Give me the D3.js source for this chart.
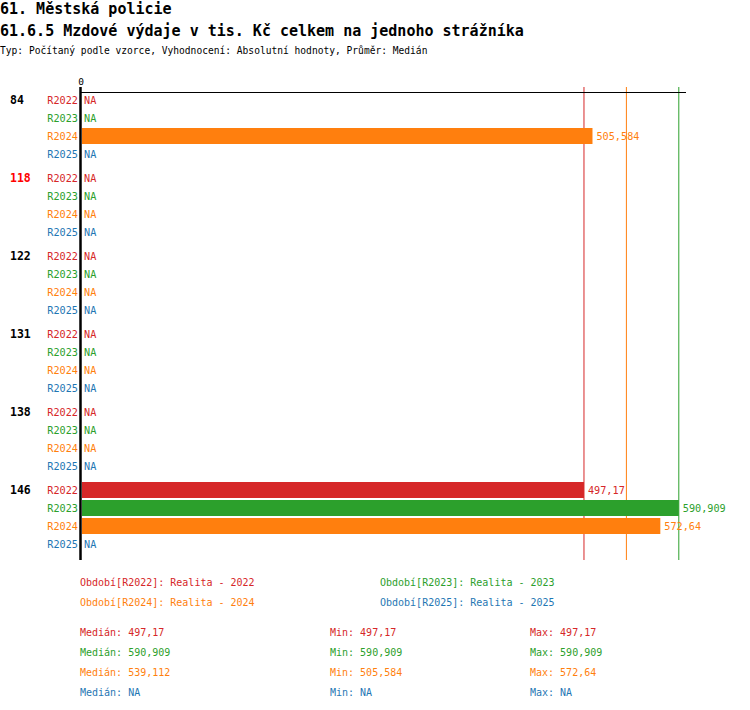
<!DOCTYPE html>
<html>
<head>
<meta charset="utf-8">
<script src="https://cdn.jsdelivr.net/npm/d3@7"></script>
<style>
  body { margin: 0; background: #fff; }
  text { font-family: "DejaVu Sans Mono", monospace; }
</style>
</head>
<body>
<div class="chart"></div>
<script>
// data (null = NA)
const groups = ["84", "118", "122", "131", "138", "146"];
const highlighted = "118";
const periods = ["R2022", "R2023", "R2024", "R2025"];
const periodNames = ["Realita - 2022", "Realita - 2023", "Realita - 2024", "Realita - 2025"];
const colors = ["#d62728", "#2ca02c", "#ff7f0e", "#1f77b4"];

const values2022 = [null, null, null, null, null, 497.17];
const values2023 = [null, null, null, null, null, 590.909];
const values2024 = [505.584, null, null, null, null, 572.64];
const values2025 = [null, null, null, null, null, null];
const seriesValues = [values2022, values2023, values2024, values2025];

const medians = [497.17, 590.909, 539.112, null];
const mins = [497.17, 590.909, 505.584, null];
const maxs = [497.17, 590.909, 572.64, null];

const width = 750;
const height = 710;

const fmt = v => v == null ? "NA" : String(v).replace(".", ",");

const svg = d3.select(".chart").append("svg")
  .attr("width", width)
  .attr("height", height);

// titles
svg.append("text").attr("x", 0).attr("y", 14)
  .style("font-size", "15px").style("font-weight", "bold")
  .text("61. Městská policie");
svg.append("text").attr("x", 0).attr("y", 36)
  .style("font-size", "15px").style("font-weight", "bold")
  .text("61.6.5 Mzdové výdaje v tis. Kč celkem na jednoho strážníka");
svg.append("text").attr("x", 0).attr("y", 54)
  .style("font-size", "9.6px")
  .text("Typ: Počítaný podle vzorce, Vyhodnocení: Absolutní hodnoty, Průměr: Medián");

// scales
const x = d3.scaleLinear().domain([0, 600]).range([81, 688]);
const y = d3.scaleBand().domain(groups).range([91, 553]).paddingInner(6 / 78);
const yInner = d3.scaleBand().domain(periods).range([0, y.bandwidth()]);

// rows
const rows = [];
groups.forEach((g, gi) => {
  periods.forEach((p, pi) => {
    rows.push({ group: g, period: p, pi: pi, value: seriesValues[pi][gi] });
  });
});

// median lines (under the bars)
svg.append("g")
  .selectAll("line")
  .data(medians.map((m, i) => ({ m, i })).filter(d => d.m != null))
  .enter().append("line")
  .attr("x1", d => x(d.m)).attr("x2", d => x(d.m))
  .attr("y1", 87).attr("y2", 560)
  .attr("stroke", d => colors[d.i])
  .attr("stroke-width", 1);

// group labels
svg.append("g")
  .selectAll("text")
  .data(groups)
  .enter().append("text")
  .attr("x", 10)
  .attr("y", d => y(d) + yInner.step() / 2 + 4)
  .style("font-size", "11.5px")
  .style("font-weight", "bold")
  .style("fill", d => d === highlighted ? "red" : "black")
  .text(d => d);

// period labels
svg.append("g")
  .selectAll("text")
  .data(rows)
  .enter().append("text")
  .attr("x", 78)
  .attr("y", d => y(d.group) + yInner(d.period) + yInner.bandwidth() / 2 + 4)
  .attr("text-anchor", "end")
  .style("font-size", "10.2px")
  .style("fill", d => colors[d.pi])
  .text(d => d.period);

// bars
svg.append("g")
  .selectAll("rect")
  .data(rows.filter(d => d.value != null))
  .enter().append("rect")
  .attr("x", x(0) + 1)
  .attr("y", d => y(d.group) + yInner(d.period) + 1)
  .attr("width", d => x(d.value) - x(0) - 1)
  .attr("height", yInner.bandwidth() - 2)
  .attr("fill", d => colors[d.pi]);

// value labels
svg.append("g")
  .selectAll("text")
  .data(rows)
  .enter().append("text")
  .attr("x", d => d.value == null ? x(0) + 3 : x(d.value) + 4)
  .attr("y", d => y(d.group) + yInner(d.period) + yInner.bandwidth() / 2 + 4)
  .style("font-size", "10.2px")
  .style("fill", d => colors[d.pi])
  .text(d => fmt(d.value));

// axis lines
svg.append("line")
  .attr("x1", 80).attr("x2", 686)
  .attr("y1", 92.5).attr("y2", 92.5)
  .attr("stroke", "black");
svg.append("line")
  .attr("x1", 80.5).attr("x2", 80.5)
  .attr("y1", 87).attr("y2", 560)
  .attr("stroke", "black")
  .attr("stroke-width", 2.5);
svg.append("text")
  .attr("x", x(0)).attr("y", 85)
  .attr("text-anchor", "middle")
  .style("font-size", "9.5px")
  .text("0");

// legend
svg.append("g")
  .selectAll("text")
  .data(periods)
  .enter().append("text")
  .attr("x", (d, i) => i % 2 === 0 ? 80 : 380)
  .attr("y", (d, i) => 586 + Math.floor(i / 2) * 20)
  .style("font-size", "10px")
  .style("fill", (d, i) => colors[i])
  .text((d, i) => `Období[${d}]: ${periodNames[i]}`);

// stats
const stats = [
  { label: "Medián", vals: medians, x: 80 },
  { label: "Min", vals: mins, x: 330 },
  { label: "Max", vals: maxs, x: 530 }
];
stats.forEach(s => {
  svg.append("g")
    .selectAll("text")
    .data(s.vals)
    .enter().append("text")
    .attr("x", s.x)
    .attr("y", (d, i) => 636 + i * 20)
    .style("font-size", "10px")
    .style("fill", (d, i) => colors[i])
    .text(d => `${s.label}: ${fmt(d)}`);
});
</script>
</body>
</html>
